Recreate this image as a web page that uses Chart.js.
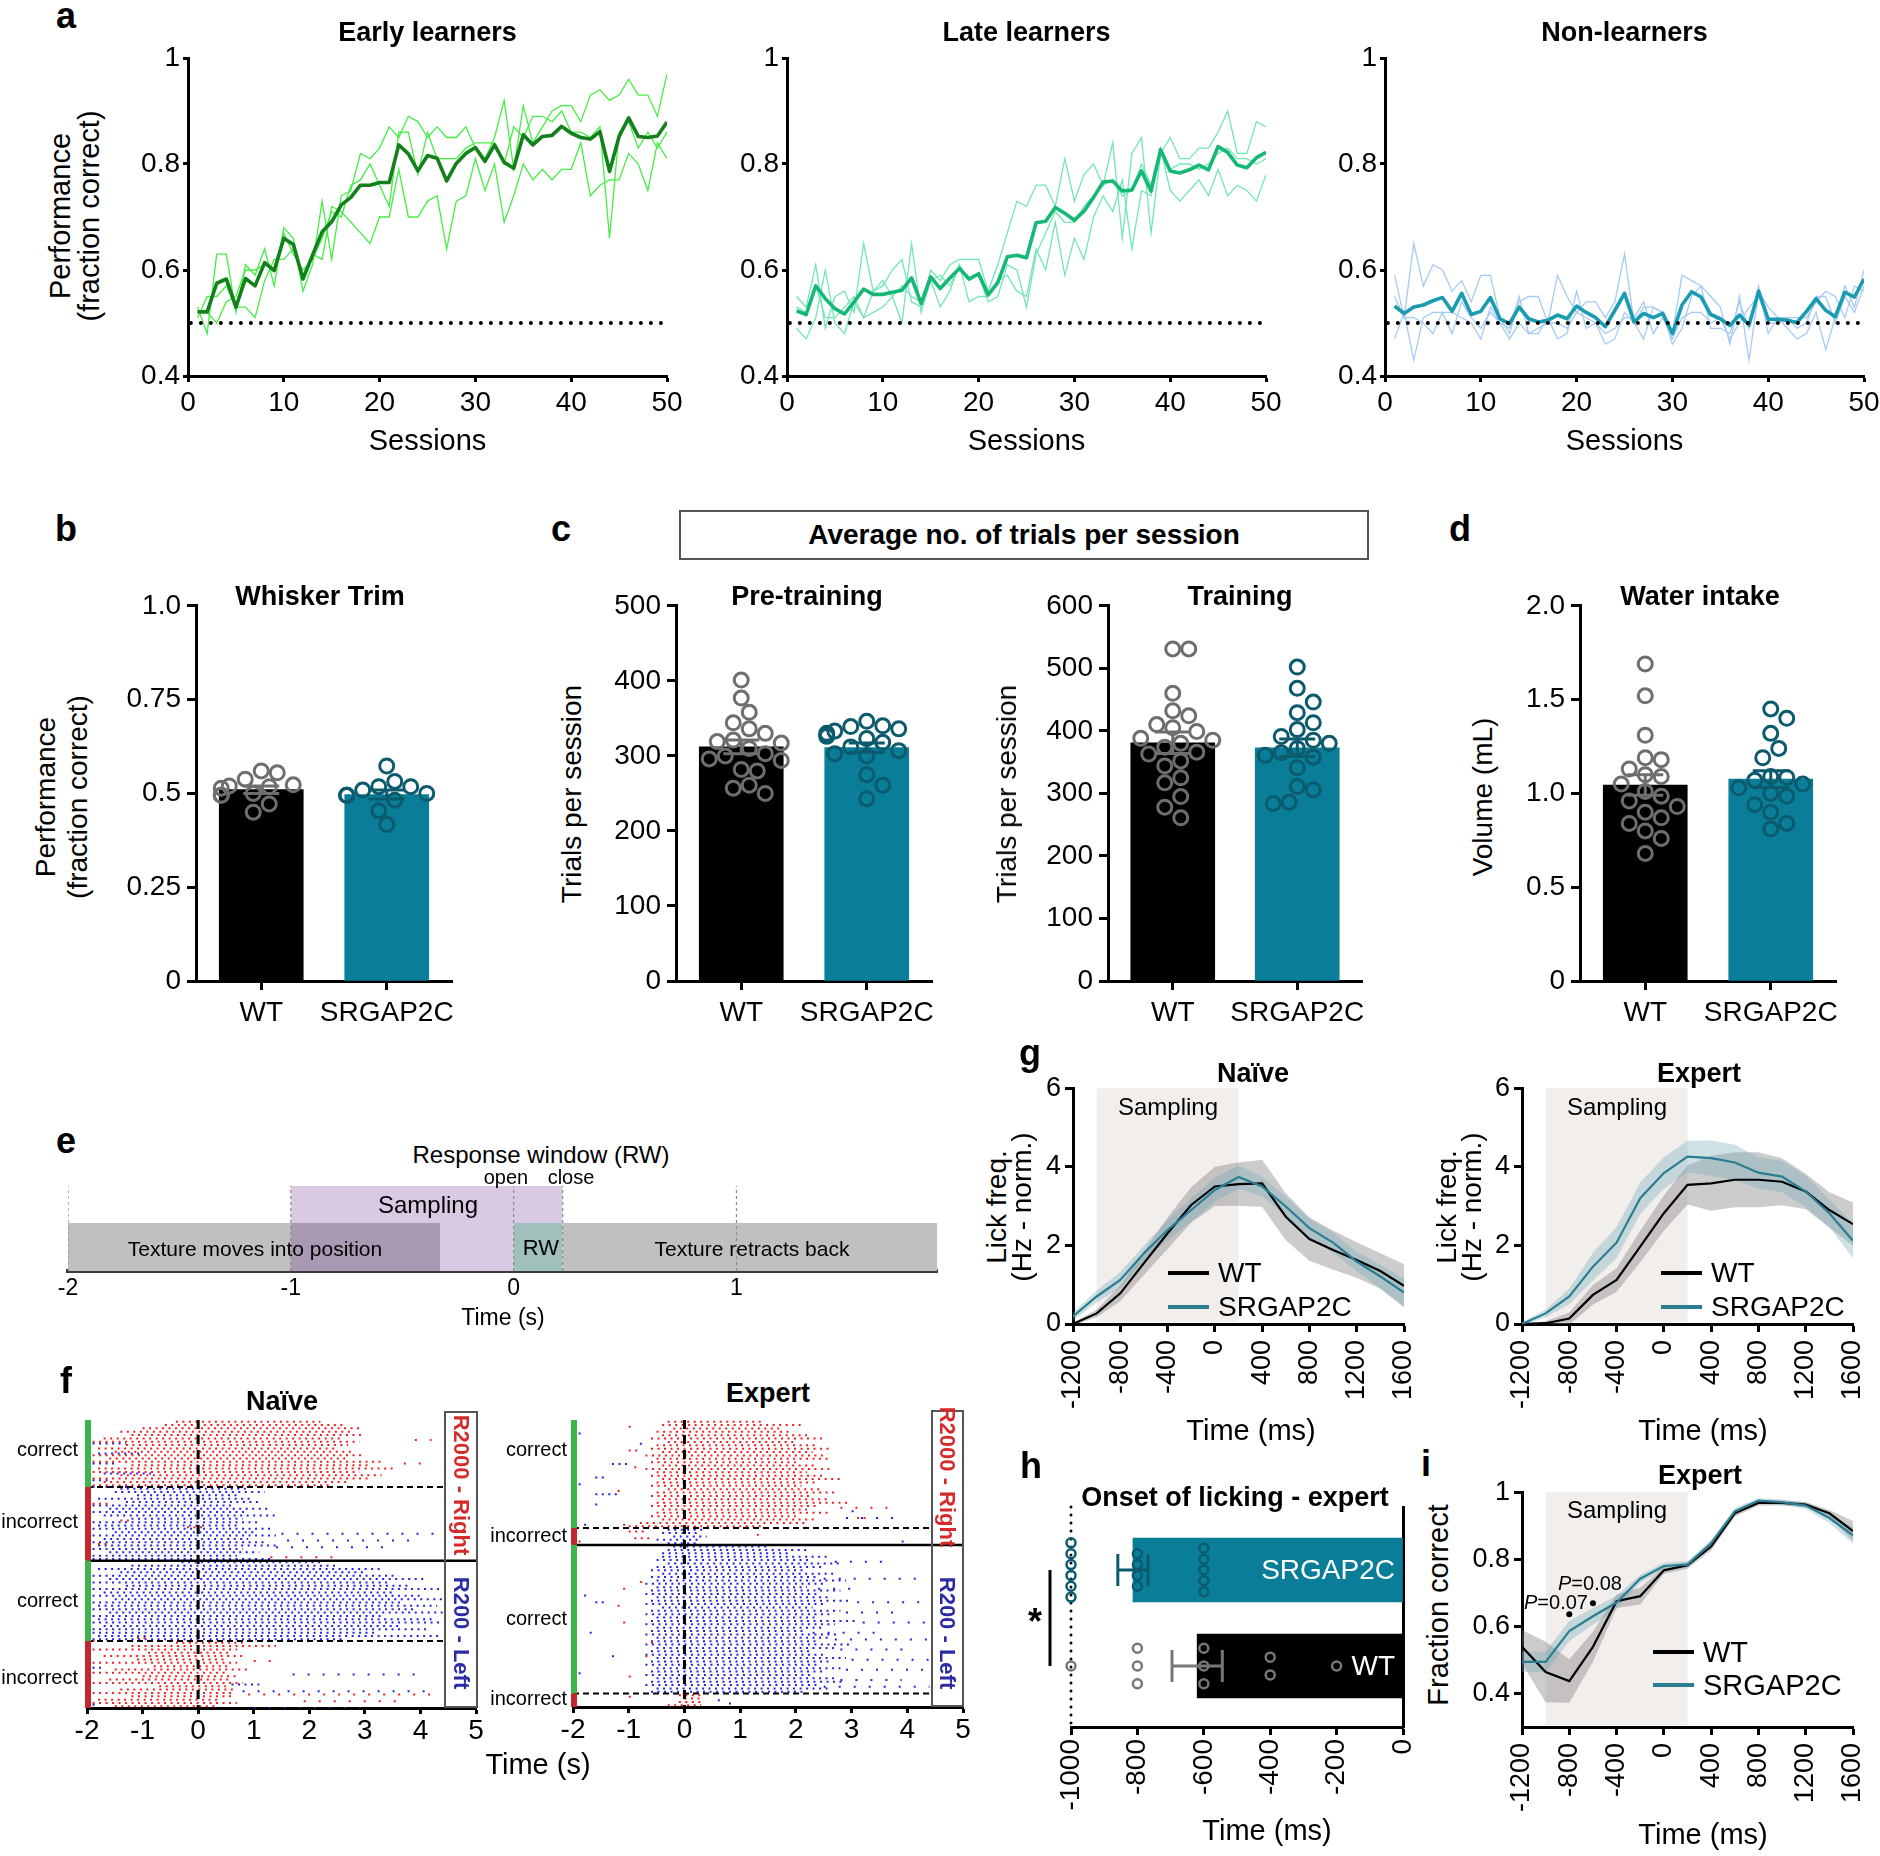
<!DOCTYPE html>
<html>
<head>
<meta charset="utf-8">
<title>SRGAP2C behaviour figure</title>
<script src="https://cdn.jsdelivr.net/npm/chart.js@4.4.1/dist/chart.umd.min.js"></script>
<style>
  html, body { margin: 0; padding: 0; background: #fff; }
  #page { position: relative; width: 1880px; height: 1856px; overflow: hidden; background: #fff;
          font-family: "Liberation Sans", Arial, Helvetica, sans-serif; color: #000; }
  #page canvas { position: absolute; }
  .t { position: absolute; white-space: nowrap; line-height: 1; }
  .box { position: absolute; box-sizing: border-box; }
</style>
</head>
<body>
<div id="page"></div>
<script>
// ---------- panel a: performance per session
const sessions = Array.from({ length: 50 }, (_, i) => i + 1);
const aSessionTicks = [0, 10, 20, 30, 40, 50];
const aPerfTicks = [0.4, 0.6, 0.8, 1];
const chanceLevel = 0.5;
const chanceSpan = [0.3, 50];

const earlyMean = [0.521,0.521,0.575,0.583,0.530,0.584,0.570,0.614,0.599,0.660,0.648,0.583,0.628,0.672,0.691,0.723,0.737,0.760,0.760,0.765,0.765,0.836,0.819,0.787,0.816,0.811,0.768,0.801,0.820,0.831,0.805,0.836,0.803,0.792,0.855,0.836,0.852,0.854,0.871,0.858,0.850,0.847,0.861,0.786,0.852,0.887,0.852,0.850,0.853,0.879];
const earlyA = [0.53,0.48,0.63,0.63,0.52,0.61,0.59,0.64,0.57,0.68,0.66,0.56,0.61,0.73,0.62,0.74,0.75,0.82,0.81,0.83,0.87,0.85,0.89,0.88,0.85,0.87,0.85,0.85,0.87,0.83,0.81,0.85,0.92,0.79,0.91,0.84,0.87,0.90,0.91,0.91,0.88,0.93,0.94,0.92,0.93,0.96,0.93,0.93,0.89,0.97];
const earlyB = [0.51,0.55,0.55,0.57,0.53,0.53,0.51,0.58,0.62,0.62,0.64,0.59,0.63,0.62,0.72,0.71,0.69,0.67,0.65,0.70,0.70,0.79,0.70,0.70,0.73,0.74,0.64,0.73,0.74,0.81,0.75,0.80,0.69,0.74,0.80,0.77,0.79,0.77,0.79,0.79,0.84,0.74,0.76,0.77,0.77,0.82,0.80,0.75,0.84,0.81];
const earlyC = [0.52,0.52,0.50,0.54,0.55,0.60,0.60,0.61,0.60,0.67,0.63,0.60,0.62,0.66,0.71,0.70,0.76,0.77,0.80,0.76,0.72,0.86,0.86,0.78,0.86,0.81,0.81,0.81,0.83,0.84,0.84,0.84,0.80,0.87,0.85,0.89,0.89,0.88,0.90,0.86,0.86,0.85,0.87,0.66,0.86,0.88,0.83,0.86,0.83,0.86];

const lateMean = [0.523,0.516,0.570,0.546,0.527,0.517,0.540,0.564,0.554,0.554,0.558,0.562,0.585,0.537,0.587,0.565,0.585,0.603,0.583,0.593,0.553,0.576,0.625,0.628,0.623,0.689,0.692,0.718,0.707,0.694,0.711,0.737,0.766,0.768,0.749,0.751,0.787,0.749,0.827,0.787,0.783,0.789,0.798,0.789,0.833,0.822,0.798,0.793,0.812,0.822];
const lateA = [0.55,0.53,0.61,0.49,0.55,0.56,0.52,0.65,0.56,0.57,0.60,0.62,0.54,0.53,0.60,0.58,0.61,0.62,0.62,0.62,0.56,0.61,0.67,0.73,0.72,0.76,0.76,0.72,0.81,0.73,0.78,0.80,0.76,0.84,0.66,0.82,0.85,0.67,0.82,0.85,0.81,0.81,0.83,0.83,0.86,0.90,0.82,0.82,0.88,0.87];
const lateB = [0.49,0.47,0.51,0.60,0.50,0.48,0.54,0.51,0.52,0.53,0.55,0.50,0.65,0.52,0.58,0.53,0.56,0.61,0.54,0.55,0.55,0.58,0.59,0.56,0.55,0.64,0.60,0.69,0.59,0.66,0.62,0.70,0.74,0.71,0.77,0.64,0.75,0.74,0.83,0.75,0.73,0.75,0.77,0.74,0.79,0.74,0.76,0.75,0.73,0.78];
const lateC = [0.53,0.52,0.57,0.51,0.51,0.53,0.55,0.51,0.56,0.58,0.55,0.57,0.55,0.54,0.58,0.59,0.57,0.61,0.58,0.59,0.54,0.55,0.61,0.60,0.53,0.63,0.67,0.71,0.69,0.69,0.72,0.74,0.76,0.77,0.74,0.75,0.80,0.76,0.83,0.79,0.80,0.80,0.79,0.80,0.82,0.83,0.81,0.81,0.80,0.81];

const nonMean = [0.532,0.518,0.530,0.534,0.542,0.548,0.522,0.556,0.516,0.522,0.548,0.508,0.499,0.530,0.508,0.502,0.505,0.515,0.508,0.532,0.520,0.510,0.493,0.524,0.556,0.502,0.518,0.510,0.518,0.480,0.534,0.559,0.549,0.516,0.508,0.495,0.515,0.496,0.560,0.507,0.507,0.505,0.501,0.522,0.546,0.524,0.512,0.558,0.549,0.583];
const nonA = [0.59,0.51,0.65,0.57,0.61,0.60,0.56,0.58,0.54,0.59,0.59,0.51,0.48,0.54,0.55,0.55,0.50,0.59,0.55,0.52,0.54,0.54,0.51,0.54,0.63,0.50,0.53,0.53,0.52,0.48,0.59,0.58,0.57,0.55,0.53,0.46,0.55,0.43,0.56,0.53,0.51,0.51,0.51,0.51,0.54,0.56,0.55,0.51,0.57,0.56];
const nonB = [0.47,0.52,0.43,0.51,0.52,0.52,0.52,0.51,0.50,0.47,0.53,0.50,0.47,0.50,0.48,0.48,0.51,0.47,0.48,0.56,0.49,0.50,0.46,0.47,0.52,0.50,0.47,0.53,0.52,0.46,0.49,0.55,0.57,0.49,0.49,0.48,0.54,0.49,0.57,0.48,0.51,0.49,0.47,0.48,0.52,0.45,0.51,0.57,0.53,0.60];
const nonC = [0.55,0.51,0.51,0.50,0.48,0.52,0.48,0.54,0.51,0.49,0.52,0.50,0.49,0.55,0.48,0.49,0.50,0.50,0.49,0.52,0.51,0.50,0.48,0.49,0.51,0.51,0.54,0.48,0.51,0.47,0.51,0.52,0.52,0.50,0.51,0.47,0.50,0.53,0.55,0.50,0.50,0.51,0.49,0.50,0.55,0.55,0.50,0.55,0.52,0.57];

// ---------- panels b-d: per-mouse values, bar means and SEM
const groupNames = ["WT", "SRGAP2C"];
const whiskerWt = [0.56,0.555,0.538,0.523,0.52,0.518,0.514,0.50,0.495,0.495,0.472,0.45];
const whiskerSrg = [0.573,0.532,0.518,0.518,0.509,0.50,0.495,0.495,0.495,0.482,0.454,0.417];
const whiskerMeans = [0.51, 0.497];
const whiskerSem = [0.01, 0.012];
const whiskerTicks = [0, 0.25, 0.5, 0.75, 1];

const preWt = [401,377,358,344,336,330,321,319,317,310,303,300,296,294,282,280,261,257,250];
const preSrg = [346,340,339,336,333,330,328,326,323,318,312,307,303,300,275,261,243];
const preMeans = [312, 311];
const preSem = [9, 6];
const preTicks = [0, 100, 200, 300, 400, 500];

const trainWt = [531,531,460,432,424,410,405,399,388,385,380,374,366,363,352,344,325,317,295,278,261];
const trainSrg = [502,468,446,429,413,402,391,385,380,372,365,361,358,341,311,306,286,284];
const trainMeans = [381, 373];
const trainSem = [17, 14];
const trainTicks = [0, 100, 200, 300, 400, 500, 600];

const waterWt = [1.69,1.52,1.31,1.19,1.18,1.13,1.10,1.09,1.05,1.01,0.985,0.96,0.93,0.90,0.87,0.84,0.80,0.76,0.68];
const waterSrg = [1.45,1.40,1.32,1.24,1.19,1.09,1.085,1.07,1.05,1.03,1.0,0.985,0.94,0.90,0.84,0.81];
const waterMeans = [1.045, 1.076];
const waterSem = [0.055, 0.045];
const waterTicks = [0, 0.5, 1, 1.5, 2];

// ---------- panel e: trial structure (s)
const eTicks = [-2, -1, 0, 1];
const eTrialSpan = [-2, 1.9];
const eTextureMove = [-2, -0.33];
const eTextureRetract = [0.22, 1.9];
const eSampling = [-1, 0.22];
const eResponseWindow = [0, 0.22];
const eMarkers = [-2, -1, 0, 0.22, 1];

// ---------- panel f: lick rasters, one [start, end] (s) per trial row
const rasterTicks = [-2, -1, 0, 1, 2, 3, 4, 5];
const stimBoxStart = 4.42;
const naiveRightCorrect = [[-0.4,2.2],[-0.6,2.6],[-1.0,2.9],[-1.4,2.8],[-1.2,3.0],[-1.7,2.6],[-1.9,2.9],[-1.3,2.7],[-1.8,2.5],[-1.5,2.8],[-1.9,3.0],[-1.6,2.7],[-1.9,3.3],[-1.2,3.1],[-1.8,3.5],[-1.9,2.9],[-1.4,3.3],[-1.9,3.1],[-1.7,2.7],[-1.9,2.4]];
const naiveRightIncorrect = [[-1.4,0.9],[-1.5,1.2],[-1.1,0.7],[-1.8,1.0],[-1.3,1.1],[-1.9,0.6],[-1.6,1.3],[-1.9,0.9],[-1.7,1.4],[-1.2,0.8],[-1.9,1.1],[-1.8,0.7],[-1.9,1.3],[-1.5,1.0],[-1.9,1.4],[-1.7,0.9],[-1.9,1.2],[-1.8,1.4],[-1.9,0.8],[-1.6,1.1],[-1.9,0.7],[-1.9,1.3]];
const naiveLeftCorrect = [[-0.3,2.2],[-1.2,2.5],[-1.8,3.3],[-1.4,3.0],[-1.9,3.6],[-1.6,4.1],[-1.9,3.4],[-1.3,3.8],[-1.9,4.4],[-1.7,3.5],[-1.9,4.0],[-1.5,4.4],[-1.9,3.7],[-1.8,4.3],[-1.9,3.9],[-1.6,4.4],[-1.9,3.3],[-1.8,4.2],[-1.9,4.4],[-1.7,3.6],[-1.9,4.1],[-1.9,3.2],[-1.8,4.4],[-1.9,2.6]];
const naiveLeftIncorrect = [[-0.4,0.8],[-1.2,1.4],[-1.9,0.7],[-0.9,0.6],[-1.7,0.8],[-1.1,0.5],[-1.9,0.7],[-0.8,0.6],[-1.5,0.9],[-1.9,0.5],[-1.0,0.7],[-1.6,0.6],[-1.9,0.8],[-0.7,0.5],[-1.4,0.7],[-1.9,0.6],[-1.2,0.6],[-1.8,0.4],[-1.9,0.7],[-1.5,0.3]];
// [block, row, start, end, colour, sparse]
const naiveStray = [[0,6,-1.9,-1.3,"b",0],[0,9,-1.8,-1.0,"b",0],[0,12,-1.9,-1.5,"b",0],[0,15,-1.7,-0.8,"b",0],[0,17,-1.9,-1.6,"b",0],[0,19,-1.9,-1.2,"b",0],[0,5,3.9,4.2,"r",1],[0,12,3.7,4.1,"r",1],
  [1,13,1.5,4.3,"b",1],[1,15,1.6,4.0,"b",1],[1,17,1.4,3.4,"b",1],[1,4,-1.9,-1.6,"r",0],[1,9,-1.4,-1.2,"r",0],[1,11,-0.2,0.1,"r",0],[1,16,-1.8,-1.6,"r",0],[1,20,1.3,2.6,"r",1],
  [2,22,-1.1,-0.9,"r",0],[2,23,-1.9,-1.7,"r",0],
  [3,5,1.0,1.4,"r",1],[3,15,0.9,4.2,"r",1],[3,17,1.9,3.7,"r",1],[3,7,-1.9,-1.7,"b",0],[3,9,1.7,4.0,"b",1],[3,12,0.6,1.1,"b",0],[3,14,0.8,4.2,"b",1],[3,19,1.0,3.1,"b",1],[3,18,-1.9,-1.8,"b",0]];
const expertRightCorrect = [[-0.3,1.4],[-0.4,2.1],[-0.2,1.7],[-0.5,1.9],[-0.4,2.2],[-0.6,2.5],[-0.3,2.0],[-0.5,2.4],[-0.6,2.6],[-0.4,2.3],[-0.7,2.5],[-0.5,2.6],[-0.6,2.0],[-0.4,2.4],[-0.7,2.6],[-0.5,2.2],[-0.6,2.5],[-0.4,2.8],[-0.5,2.4],[-0.6,2.1],[-0.3,2.5],[-0.5,2.7],[-0.6,2.3],[-0.4,2.6],[-0.5,3.0],[-0.6,2.4],[-0.4,2.2],[-0.5,2.6],[-0.6,2.0],[-0.4,2.4],[-0.8,2.2],[-1.0,1.4]];
const expertRightIncorrect = [[-0.3,0.4],[-0.4,0.3],[-0.2,0.4],[-0.5,0.3],[-0.3,0.2]];
const expertLeftCorrect = [[-0.2,1.5],[-0.3,2.2],[-0.4,1.9],[-0.4,2.6],[-0.5,2.3],[-0.3,2.8],[-0.5,2.5],[-0.6,2.2],[-0.4,2.7],[-0.6,2.4],[-0.5,2.9],[-0.7,2.5],[-0.5,2.2],[-0.6,2.8],[-0.7,2.4],[-0.5,2.6],[-0.6,3.0],[-0.7,2.5],[-0.4,2.3],[-0.6,2.8],[-0.7,2.6],[-0.5,2.4],[-0.6,3.1],[-0.7,2.7],[-0.5,2.5],[-0.6,2.2],[-0.7,2.8],[-0.5,2.6],[-0.6,2.4],[-0.7,3.0],[-0.5,2.7],[-0.6,2.3],[-0.7,2.5],[-0.5,2.9],[-0.6,2.6],[-0.7,2.4],[-0.5,2.8],[-0.6,2.5],[-0.7,2.3],[-0.5,2.7],[-0.6,2.9],[-0.7,2.4],[-0.5,2.6],[-0.6,2.2]];
const expertLeftIncorrect = [[-0.1,0.3],[0.0,0.3],[-0.1,0.3],[-0.3,0.3]];
const expertStray = [[0,1,-1.0,-0.9,"r",0],[0,8,-1.0,-0.8,"r",0],[0,13,-0.9,-0.8,"r",0],[0,20,-1.2,-1.1,"r",0],[0,25,2.8,3.75,"r",1],[0,28,3.1,3.3,"r",0],[0,30,-1.1,-1.0,"r",0],
  [0,3,-1.9,-1.8,"b",0],[0,6,-0.8,-0.7,"b",0],[0,12,-1.3,-1.0,"b",0],[0,16,-1.6,-1.4,"b",0],[0,18,-1.9,-1.8,"b",0],[0,21,-1.6,-1.2,"b",0],[0,24,-1.6,-1.5,"b",0],[0,26,3.0,3.1,"b",0],[0,28,2.9,3.8,"b",1],[0,30,-1.8,-1.7,"b",0],
  [1,0,-1.0,-0.7,"r",0],[1,2,-0.9,-0.6,"r",0],[1,3,-1.9,-1.8,"r",0],[1,1,1.3,1.4,"r",0],[1,3,3.9,4.0,"b",0],[1,4,-1.9,-1.6,"b",1],
  [2,4,2.7,3.6,"b",1],[2,9,2.5,4.2,"b",1],[2,12,2.4,3.2,"b",1],[2,16,3.1,4.4,"b",1],[2,19,2.9,3.9,"b",1],[2,22,3.2,4.4,"b",1],[2,25,2.3,3.5,"b",1],[2,27,2.7,4.4,"b",1],[2,30,2.8,4.1,"b",1],[2,33,3.0,4.4,"b",1],[2,36,2.9,4.3,"b",1],[2,39,2.8,3.9,"b",1],[2,41,2.5,4.4,"b",1],
  [2,10,-0.8,-0.7,"r",0],[2,12,-1.1,-1.0,"r",0],[2,17,-1.2,-1.1,"r",0],[2,22,-1.1,-1.0,"r",0],[2,28,-0.6,-0.5,"r",0],[2,32,-0.7,-0.6,"r",0],[2,38,-1.0,-0.9,"r",0],
  [2,14,-1.8,-1.7,"b",0],[2,16,-1.6,-1.4,"b",0],[2,25,-1.7,-1.6,"b",0],[2,32,-1.3,-1.2,"b",0],[2,37,-1.9,-1.8,"b",0],
  [3,1,0.6,0.7,"b",0],[3,2,0.8,0.9,"b",0],[3,0,-1.0,-0.9,"r",0]];

// ---------- panels g, i: binned time course (ms)
const lickTimes = [-1200,-1000,-800,-600,-400,-200,0,200,400,600,800,1000,1200,1400,1600];
const timeTicks = [-1200,-800,-400,0,400,800,1200,1600];
const samplingWindow = [-1000, 200];
const naiveWt = [0,0.27,0.78,1.55,2.31,3.03,3.50,3.56,3.58,2.73,2.16,1.88,1.63,1.35,0.97];
const naiveWtSem = [0.03,0.1,0.2,0.3,0.4,0.45,0.5,0.55,0.6,0.6,0.55,0.5,0.45,0.45,0.55];
const naiveSrg = [0.19,0.70,1.12,1.80,2.39,2.90,3.41,3.74,3.50,2.99,2.44,2.07,1.59,1.21,0.80];
const naiveSrgSem = [0.1,0.15,0.2,0.2,0.25,0.3,0.3,0.3,0.25,0.25,0.25,0.25,0.25,0.3,0.35];
const expertWt = [0,0.02,0.14,0.74,1.12,1.97,2.82,3.54,3.58,3.67,3.67,3.62,3.37,2.90,2.54];
const expertWtSem = [0.02,0.05,0.15,0.25,0.3,0.4,0.45,0.5,0.7,0.7,0.7,0.6,0.45,0.45,0.55];
const expertSrg = [0,0.27,0.70,1.46,2.07,3.20,3.84,4.26,4.22,4.11,3.85,3.75,3.37,2.82,2.12];
const expertSrgSem = [0.05,0.1,0.2,0.35,0.4,0.4,0.4,0.4,0.45,0.45,0.4,0.4,0.4,0.35,0.45];
const lickTicks = [0, 2, 4, 6];
const fracWt = [0.539,0.464,0.437,0.539,0.675,0.690,0.767,0.782,0.838,0.937,0.968,0.968,0.963,0.937,0.884];
const fracWtSem = [0.05,0.09,0.065,0.045,0.02,0.025,0.01,0.01,0.012,0.01,0.008,0.008,0.008,0.01,0.03];
const fracSrg = [0.494,0.494,0.586,0.630,0.671,0.742,0.780,0.784,0.848,0.943,0.975,0.970,0.960,0.923,0.871];
const fracSrgSem = [0.03,0.03,0.03,0.025,0.02,0.012,0.01,0.01,0.01,0.01,0.008,0.008,0.01,0.015,0.025];
const fracTicks = [0.4, 0.6, 0.8, 1];
const sigTimes = [-800, -600];
const sigLevels = [0.636, 0.669];

// ---------- panel h: lick onset per mouse (ms)
const onsetSrg = [-1000,-1000,-1000,-1000,-1000,-1000,-800,-800,-800,-800,-600,-600,-600,-600,-600];
const onsetWt = [-1000,-800,-800,-800,-600,-600,-600,-400,-400,-200];
const onsetTicks = [-1000,-800,-600,-400,-200,0];

// ---------- colours
const BAR = ["#000000", "#0a7e98"];
const DOT = ["#6e6e6e", "#0b5a6d"];
const SRG_LINE = "#2a7e92";
const SRG_BAND = "rgba(112,168,184,0.35)";
const WT_BAND = "rgba(120,120,120,0.38)";
const SHADE = "#f2eeec";
const RED = "#ee2020";
const BLUE = "#2424dc";

// ---------- helpers
const page = document.getElementById("page");
Chart.defaults.font.family = '"Liberation Sans", Arial, Helvetica, sans-serif';
Chart.defaults.color = "#000";

function label(str, x, y, size, o = {}) {
  const d = document.createElement("div");
  d.className = "t";
  if (o.html) d.innerHTML = str; else d.textContent = str;
  d.style.left = x + "px";
  d.style.top = y + "px";
  d.style.fontSize = size + "px";
  if (o.bold) d.style.fontWeight = "bold";
  if (o.color) d.style.color = o.color;
  const tx = o.align === "right" ? "-100%" : o.align === "left" ? "0%" : "-50%";
  d.style.transform = `translate(${tx}, -50%)` + (o.rot ? ` rotate(${o.rot}deg)` : "");
  page.appendChild(d);
  return d;
}

function box(x, y, w, h, css) {
  const d = document.createElement("div");
  d.className = "box";
  Object.assign(d.style, { left: x + "px", top: y + "px", width: w + "px", height: h + "px" }, css);
  page.appendChild(d);
  return d;
}

function makeChart(area, m, config) {
  const c = document.createElement("canvas");
  const w = area.r - area.l + m.l + m.r;
  const h = area.b - area.t + m.t + m.b;
  c.width = w;
  c.height = h;
  c.style.left = area.l - m.l + "px";
  c.style.top = area.t - m.t + "px";
  c.style.width = w + "px";
  c.style.height = h + "px";
  page.appendChild(c);
  return new Chart(c, config);
}

function opts(pad, scales) {
  return {
    responsive: false, animation: false, devicePixelRatio: 1, events: [],
    layout: { padding: pad },
    plugins: { legend: { display: false }, tooltip: { enabled: false } },
    scales,
  };
}

function axis(pos, min, max, size, o = {}) {
  const horiz = pos === "bottom" || pos === "top";
  const col = o.color || "#000";
  const ax = {
    type: "linear", position: pos, min, max, reverse: !!o.reverse, offset: false,
    border: { display: true, color: col, width: o.width || 3 },
    grid: { display: !o.noMarks, offset: false, drawOnChartArea: false, drawTicks: !o.noMarks,
            tickLength: o.noMarks ? 0 : (o.tick || 9), tickWidth: o.width || 3, tickColor: col },
    ticks: { display: !o.noLabels, font: { size: o.font || 28 }, color: "#000", padding: o.pad ?? 3, autoSkip: false,
             maxRotation: o.rot || 0, minRotation: o.rot || 0, callback: o.fmt || (v => String(v)) },
    afterFit: s => { if (horiz) s.height = size; else s.width = size; },
  };
  if (o.values) ax.afterBuildTicks = s => { s.ticks = o.values.map(v => ({ value: v })); };
  return ax;
}

const clear = "rgba(0,0,0,0)";
const line = (data, color, width, dash, extra) =>
  Object.assign({ type: "line", data, borderColor: color, borderWidth: width, borderDash: dash || [], pointRadius: 0, fill: false }, extra || {});

// simple beeswarm: horizontal pixel offsets so that circles do not pile up
function swarm(values, pxX, pxY, minDist) {
  const order = values.map((v, i) => i).sort((a, b) => values[b] - values[a]);
  const cands = [0];
  for (let k = 1; k <= 5; k++) cands.push(k * 8, -k * 8);
  const placed = [];
  const offs = new Array(values.length).fill(0);
  order.forEach(i => {
    const y = values[i] * pxY;
    let pick = cands[cands.length - 1];
    for (const c of cands) {
      if (placed.every(p => Math.hypot(p.x - c, p.y - y) >= minDist)) { pick = c; break; }
    }
    placed.push({ x: pick, y });
    offs[i] = pick / pxX;
  });
  return offs;
}

// offsets for identical values stacked across the category axis
function stackOffsets(values, spacing) {
  const seen = {};
  values.forEach(v => { seen[v] = (seen[v] || 0) + 1; });
  const used = {};
  return values.map(v => {
    const k = used[v] = (used[v] || 0) + 1;
    return (k - 1 - (seen[v] - 1) / 2) * spacing;
  });
}

const shadePlugin = range => ({
  id: "shade",
  beforeDatasetsDraw(chart) {
    const { ctx, chartArea: a, scales: { x } } = chart;
    const x0 = x.getPixelForValue(range[0]), x1 = x.getPixelForValue(range[1]);
    ctx.save();
    ctx.fillStyle = SHADE;
    ctx.fillRect(x0, a.top, x1 - x0, a.bottom - a.top - 2);
    ctx.restore();
  },
});

// ---------- panel a
const aTop = 58, aBottom = 376;
[
  { l: 188, r: 667, lines: [earlyA, earlyB, earlyC], mean: earlyMean, thin: "#45ee45", thick: "#13801c", title: "Early learners" },
  { l: 787, r: 1266, lines: [lateA, lateB, lateC], mean: lateMean, thin: "#72e6b6", thick: "#15b875", title: "Late learners" },
  { l: 1385, r: 1864, lines: [nonA, nonB, nonC], mean: nonMean, thin: "#a4cbf3", thick: "#1a9bb0", title: "Non-learners" },
].forEach(p => {
  const area = { l: p.l, r: p.r, t: aTop, b: aBottom };
  const m = { l: 62, r: 26, t: 20, b: 60 };
  const xy = arr => arr.map((v, i) => ({ x: sessions[i], y: v }));
  const datasets = [
    line([{ x: chanceSpan[0], y: chanceLevel }, { x: chanceSpan[1], y: chanceLevel }], "#000", 4, [0, 10], { borderCapStyle: "round" }),
    line(xy(p.mean), p.thick, 3.6, [], { borderJoinStyle: "round" }),
    ...p.lines.map(a => line(xy(a), p.thin, 1.3)),
  ];
  makeChart(area, m, {
    type: "scatter", data: { datasets },
    options: opts({ top: m.t, right: m.r, left: 0, bottom: 0 }, {
      x: axis("bottom", 0, 50, m.b, { values: aSessionTicks, tick: 6, pad: 4 }),
      y: axis("left", 0.4, 1, m.l, { values: aPerfTicks, tick: 5, pad: 3, fmt: v => (v === 1 ? "1" : v.toFixed(1)) }),
    }),
  });
  const cx = (p.l + p.r) / 2;
  label(p.title, cx, 32, 27, { bold: true });
  label("Sessions", cx, 440, 29);
});
label("Performance", 60, 216, 29, { rot: -90 });
label("(fraction correct)", 89, 216, 29, { rot: -90 });

// ---------- panels b-d
function barPanel(area, groups, means, sems, yMax, ticks, fmt) {
  const m = { l: 80, r: 74, t: 22, b: 62 };
  const xMin = -0.52, xMax = 1.52;
  const pxX = (area.r - area.l) / (xMax - xMin);
  const pxY = (area.b - area.t) / yMax;
  const dots = groups.map((vals, g) => {
    const offs = swarm(vals, pxX, pxY, 16);
    return {
      type: "scatter", data: vals.map((v, i) => ({ x: g + offs[i], y: v })),
      pointRadius: 7, pointBorderWidth: 3, pointBorderColor: DOT[g], pointBackgroundColor: clear,
    };
  });
  const bars = { type: "bar", data: means.map((v, g) => ({ x: g, y: v })), backgroundColor: BAR, barThickness: 84 };
  const errBars = {
    id: "verr",
    afterDatasetsDraw(chart) {
      const { ctx, scales: { x, y } } = chart;
      ctx.save();
      ctx.lineWidth = 3;
      means.forEach((mv, g) => {
        const px = x.getPixelForValue(g);
        const y0 = y.getPixelForValue(mv - sems[g]), y1 = y.getPixelForValue(mv + sems[g]);
        ctx.strokeStyle = DOT[g];
        ctx.beginPath();
        ctx.moveTo(px, y0); ctx.lineTo(px, y1);
        ctx.moveTo(px - 18, y0); ctx.lineTo(px + 18, y0);
        ctx.moveTo(px - 18, y1); ctx.lineTo(px + 18, y1);
        ctx.stroke();
      });
      ctx.restore();
    },
  };
  makeChart(area, m, {
    type: "scatter", data: { datasets: [...dots, bars] }, plugins: [errBars],
    options: opts({ top: m.t, right: m.r, left: 0, bottom: 0 }, {
      x: axis("bottom", xMin, xMax, m.b, { values: [0, 1], pad: 6, fmt: v => groupNames[Math.round(v)] }),
      y: axis("left", 0, yMax, m.l, { values: ticks, pad: 6, fmt }),
    }),
  });
}
const bcdTop = 605, bcdBottom = 981;
barPanel({ l: 196, r: 452, t: bcdTop, b: bcdBottom }, [whiskerWt, whiskerSrg], whiskerMeans, whiskerSem, 1, whiskerTicks,
  v => (v === 0 ? "0" : v === 1 ? "1.0" : String(v)));
barPanel({ l: 676, r: 932, t: bcdTop, b: bcdBottom }, [preWt, preSrg], preMeans, preSem, 500, preTicks, v => String(v));
barPanel({ l: 1108, r: 1362, t: bcdTop, b: bcdBottom }, [trainWt, trainSrg], trainMeans, trainSem, 600, trainTicks, v => String(v));
barPanel({ l: 1580, r: 1836, t: bcdTop, b: bcdBottom }, [waterWt, waterSrg], waterMeans, waterSem, 2, waterTicks,
  v => (v === 0 ? "0" : v.toFixed(1)));

label("Whisker Trim", 320, 596, 27, { bold: true });
label("Performance", 46, 797, 28, { rot: -90 });
label("(fraction correct)", 78, 797, 28, { rot: -90 });
box(679, 510, 690, 50, { border: "2px solid #555" });
label("Average no. of trials per session", 1024, 535, 28, { bold: true });
label("Pre-training", 807, 596, 27, { bold: true });
label("Trials per session", 572, 794, 28, { rot: -90 });
label("Training", 1240, 596, 27, { bold: true });
label("Trials per session", 1007, 794, 28, { rot: -90 });
label("Water intake", 1700, 596, 27, { bold: true });
label("Volume (mL)", 1483, 797, 28, { rot: -90 });

// ---------- panel e
(function () {
  const area = { l: 68, r: 937, t: 1186, b: 1271 };
  const m = { l: 24, r: 24, t: 4, b: 40 };
  const barTop = 0.565;
  const fillBox = (span, top, color) => line([{ x: span[0], y: top }, { x: span[1], y: top }], clear, 0, [], { fill: "origin", backgroundColor: color });
  const marks = [];
  eMarkers.forEach(x => marks.push({ x, y: 0 }, { x, y: 1 }, { x, y: null }));
  const overlap = [Math.max(eSampling[0], eTextureMove[0]), Math.min(eSampling[1], eTextureMove[1])];
  const datasets = [
    line(marks, "#8a8a8a", 1.2, [3, 3]),
    fillBox(eResponseWindow, barTop, "#9fc0bb"),
    fillBox(overlap, barTop, "#a999b3"),
    fillBox(eSampling, 1, "#d9c9e3"),
    fillBox(eTextureMove, barTop, "#c0c0c0"),
    fillBox(eTextureRetract, barTop, "#c0c0c0"),
  ];
  makeChart(area, m, {
    type: "scatter", data: { datasets },
    options: opts({ left: m.l, right: m.r, top: m.t, bottom: 0 }, {
      x: axis("bottom", eTrialSpan[0], eTrialSpan[1], m.b, { values: eTicks, noMarks: true, font: 23, pad: 4, color: "#3a3a3a", width: 4 }),
      y: { type: "linear", display: false, min: 0, max: 1 },
    }),
  });
})();
label("Response window (RW)", 541, 1155, 24);
label("open", 506, 1177, 20);
label("close", 571, 1177, 20);
label("Sampling", 428, 1205, 24);
label("Texture moves into position", 255, 1248, 21);
label("RW", 541, 1248, 22);
label("Texture retracts back", 752, 1248, 21);
label("Time (s)", 503, 1317, 23);

// ---------- panel f
function rasterChart(area, blocks, strays) {
  const m = { l: 20, r: 22, t: 6, b: 64 };
  const offsets = [];
  let total = 0;
  blocks.forEach(b => { offsets.push(total); total += b.rows.length; });
  const segs = { r: [[], []], b: [[], []] };
  const addSeg = (list, s, e, y) => list.push({ x: s, y }, { x: e, y }, { x: e, y: null });
  blocks.forEach((b, bi) => b.rows.forEach(([s, e], r) => addSeg(segs[b.color][0], s, e, offsets[bi] + r + 0.5)));
  strays.forEach(([bi, r, s, e, c, sp]) => addSeg(segs[c][sp], s, e, offsets[bi] + r + 1));
  const datasets = [line([{ x: 0, y: 0 }, { x: 0, y: total }], "#000", 3, [9, 6])];
  offsets.slice(1).forEach((y, k) => {
    const solid = k === 1;
    datasets.push(line([{ x: -2, y }, { x: solid ? 5 : stimBoxStart, y }], "#000", solid ? 2.5 : 2, solid ? [] : [6, 4]));
  });
  datasets.push(
    line(segs.r[0], RED, 2, [2, 4.5]), line(segs.b[0], BLUE, 2, [2, 4.5]),
    line(segs.r[1], RED, 2, [2, 13]), line(segs.b[1], BLUE, 2, [2, 13]));
  const side = {
    id: "side",
    afterDatasetsDraw(chart) {
      const { ctx, chartArea: a, scales: { y } } = chart;
      ctx.save();
      blocks.forEach((b, bi) => {
        const y0 = y.getPixelForValue(offsets[bi]), y1 = y.getPixelForValue(offsets[bi] + b.rows.length);
        ctx.fillStyle = b.correct ? "#3cb64a" : "#c4262e";
        ctx.fillRect(a.left - 2, y0, 6, y1 - y0);
      });
      ctx.restore();
    },
  };
  makeChart(area, m, {
    type: "scatter", data: { datasets }, plugins: [side],
    options: opts({ left: m.l, right: m.r, top: m.t, bottom: 0 }, {
      x: axis("bottom", -2, 5, m.b, { values: rasterTicks, tick: 6, pad: 0 }),
      y: { type: "linear", display: false, min: 0, max: total, reverse: true },
    }),
  });
}
rasterChart({ l: 87, r: 476, t: 1420, b: 1708 }, [
  { rows: naiveRightCorrect, color: "r", correct: true },
  { rows: naiveRightIncorrect, color: "b", correct: false },
  { rows: naiveLeftCorrect, color: "b", correct: true },
  { rows: naiveLeftIncorrect, color: "r", correct: false },
], naiveStray);
rasterChart({ l: 573, r: 963, t: 1420, b: 1707 }, [
  { rows: expertRightCorrect, color: "r", correct: true },
  { rows: expertRightIncorrect, color: "b", correct: false },
  { rows: expertLeftCorrect, color: "b", correct: true },
  { rows: expertLeftIncorrect, color: "r", correct: false },
], expertStray);

label("Naïve", 282, 1401, 27, { bold: true });
label("Expert", 768, 1393, 27, { bold: true });
[["correct", 1449], ["incorrect", 1521], ["correct", 1600], ["incorrect", 1677]].forEach(([s, y]) => label(s, 78, y, 20, { align: "right" }));
[["correct", 1449], ["incorrect", 1535], ["correct", 1618], ["incorrect", 1698]].forEach(([s, y]) => label(s, 567, y, 20, { align: "right" }));
box(444, 1411, 34, 297, { border: "2px solid #555" });
box(931, 1410, 33, 297, { border: "2px solid #555" });
label("R2000 - Right", 461, 1485, 22, { bold: true, color: "#d42a2a", rot: 90 });
label("R200 - Left", 461, 1633, 22, { bold: true, color: "#2b2ba5", rot: 90 });
label("R2000 - Right", 947, 1477, 22, { bold: true, color: "#d42a2a", rot: 90 });
label("R200 - Left", 947, 1633, 22, { bold: true, color: "#2b2ba5", rot: 90 });
label("Time (s)", 538, 1764, 29);

// ---------- panels g and i
function timeCourse(area, c) {
  const m = { l: 52, r: 48, t: 20, b: 100 };
  const pts = arr => arr.map((v, i) => ({ x: lickTimes[i], y: v }));
  const edge = (arr, sem, k) => arr.map((v, i) => ({ x: lickTimes[i], y: v + k * sem[i] }));
  const datasets = [
    ...(c.extra || []),
    line(pts(c.srg), SRG_LINE, 2.2),
    line(pts(c.wt), "#000", 2.2),
    line(edge(c.srg, c.srgSem, 1), clear, 0, [], { fill: "+1", backgroundColor: SRG_BAND }),
    line(edge(c.srg, c.srgSem, -1), clear, 0),
    line(edge(c.wt, c.wtSem, 1), clear, 0, [], { fill: "+1", backgroundColor: WT_BAND }),
    line(edge(c.wt, c.wtSem, -1), clear, 0),
  ];
  makeChart(area, m, {
    type: "scatter", data: { datasets }, plugins: [shadePlugin(samplingWindow)],
    options: opts({ top: m.t, right: m.r, left: 0, bottom: 0 }, {
      x: axis("bottom", -1200, 1600, m.b, { values: timeTicks, rot: 90, font: 27, pad: 8, tick: 8 }),
      y: axis("left", c.yMin, c.yMax, m.l, { values: c.ticks, font: 27, pad: 4, tick: 8, fmt: c.fmt }),
    }),
  });
}
timeCourse({ l: 1073, r: 1404, t: 1088, b: 1324 }, { wt: naiveWt, wtSem: naiveWtSem, srg: naiveSrg, srgSem: naiveSrgSem, yMin: 0, yMax: 6, ticks: lickTicks });
timeCourse({ l: 1522, r: 1853, t: 1088, b: 1324 }, { wt: expertWt, wtSem: expertWtSem, srg: expertSrg, srgSem: expertSrgSem, yMin: 0, yMax: 6, ticks: lickTicks });
timeCourse({ l: 1522, r: 1853, t: 1492, b: 1727 }, {
  wt: fracWt, wtSem: fracWtSem, srg: fracSrg, srgSem: fracSrgSem, yMin: 0.3, yMax: 1, ticks: fracTicks,
  fmt: v => (v === 1 ? "1" : v.toFixed(1)),
  extra: [{ type: "scatter", data: sigTimes.map((t, i) => ({ x: t, y: sigLevels[i] })), pointRadius: 3, pointBackgroundColor: "#000", pointBorderWidth: 0 }],
});

function legend(x, y1, y2, size) {
  box(x, y1 - 2, 41, 4, { background: "#000" });
  box(x, y2 - 2, 41, 4, { background: SRG_LINE });
  label("WT", x + 50, y1, size, { align: "left" });
  label("SRGAP2C", x + 50, y2, size, { align: "left" });
}
label("Naïve", 1253, 1073, 27, { bold: true });
label("Expert", 1699, 1073, 27, { bold: true });
label("Sampling", 1168, 1107, 24);
label("Sampling", 1617, 1107, 24);
label("Lick freq.", 997, 1207, 28, { rot: -90 });
label("(Hz - norm.)", 1022, 1207, 28, { rot: -90 });
label("Lick freq.", 1447, 1207, 28, { rot: -90 });
label("(Hz - norm.)", 1472, 1207, 28, { rot: -90 });
label("Time (ms)", 1251, 1430, 29);
label("Time (ms)", 1703, 1430, 29);
legend(1168, 1273, 1307, 28);
legend(1661, 1273, 1307, 28);

label("Expert", 1700, 1475, 27, { bold: true });
label("Sampling", 1617, 1510, 24);
label("Fraction correct", 1438, 1605, 29, { rot: -90 });
label("Time (ms)", 1703, 1834, 29);
label("<i>P</i>=0.08", 1590, 1583, 20, { html: true });
label("<i>P</i>=0.07", 1556, 1602, 20, { html: true });
legend(1653, 1652, 1685, 29);

// ---------- panel h
(function () {
  const area = { l: 1071, r: 1403, t: 1507, b: 1727 };
  const m = { l: 40, r: 48, t: 10, b: 100 };
  const yAxisWidth = 20;
  const yMin = -0.656, yMax = 1.635;
  const groups = [onsetSrg, onsetWt];
  const spacing = [0.113, 0.185];
  const means = groups.map(g => g.reduce((s, v) => s + v, 0) / g.length);
  const sems = groups.map((g, k) => {
    const sd = Math.sqrt(g.reduce((s, v) => s + (v - means[k]) ** 2, 0) / (g.length - 1));
    return sd / Math.sqrt(g.length);
  });
  const colors = [DOT[1], "#777777"];
  const dots = groups.map((g, k) => {
    const offs = stackOffsets(g, spacing[k]);
    return { type: "scatter", clip: false, data: g.map((v, i) => ({ x: v, y: k + offs[i] })), pointRadius: 4.5, pointBorderWidth: 2.5, pointBorderColor: colors[k], pointBackgroundColor: clear };
  });
  const bars = { type: "bar", indexAxis: "y", data: means.map((v, k) => ({ x: v, y: k })), backgroundColor: [BAR[1], BAR[0]], barThickness: 64 };
  const floor = line([{ x: -1000, y: yMin }, { x: -1000, y: yMax }], "#000", 3, [0, 8], { borderCapStyle: "round", clip: false });
  const extras = {
    id: "herr",
    afterDatasetsDraw(chart) {
      const { ctx, chartArea: a, scales: { x, y } } = chart;
      ctx.save();
      ctx.lineWidth = 3;
      means.forEach((mv, k) => {
        const py = y.getPixelForValue(k);
        const x0 = x.getPixelForValue(mv - sems[k]), x1 = x.getPixelForValue(mv + sems[k]);
        ctx.strokeStyle = colors[k];
        ctx.beginPath();
        ctx.moveTo(x0, py); ctx.lineTo(x1, py);
        ctx.moveTo(x0, py - 16); ctx.lineTo(x0, py + 16);
        ctx.moveTo(x1, py - 16); ctx.lineTo(x1, py + 16);
        ctx.stroke();
      });
      ctx.strokeStyle = "#000";
      ctx.beginPath();
      ctx.moveTo(a.left - 21, y.getPixelForValue(0));
      ctx.lineTo(a.left - 21, y.getPixelForValue(1));
      ctx.stroke();
      ctx.restore();
    },
  };
  makeChart(area, m, {
    type: "scatter", data: { datasets: [...dots, floor, bars] }, plugins: [extras],
    options: opts({ left: m.l, top: m.t, right: m.r - yAxisWidth, bottom: 0 }, {
      x: axis("bottom", -1000, 0, m.b, { values: onsetTicks, rot: 90, font: 28, pad: 4, tick: 8 }),
      y: axis("right", yMin, yMax, yAxisWidth, { reverse: true, noMarks: true, noLabels: true }),
    }),
  });
})();
label("Onset of licking - expert", 1235, 1497, 27, { bold: true });
label("SRGAP2C", 1395, 1570, 28, { align: "right", color: "#fff" });
label("WT", 1395, 1666, 28, { align: "right", color: "#fff" });
label("*", 1035, 1622, 36, { bold: true });
label("Time (ms)", 1267, 1830, 29);

// ---------- panel letters
[["a", 66, 16], ["b", 66, 529], ["c", 561, 529], ["d", 1460, 529], ["e", 66, 1141], ["f", 66, 1381],
 ["g", 1030, 1053], ["h", 1031, 1466], ["i", 1426, 1464]].forEach(([s, x, y]) => label(s, x, y, 36, { bold: true }));
</script>
</body>
</html>
